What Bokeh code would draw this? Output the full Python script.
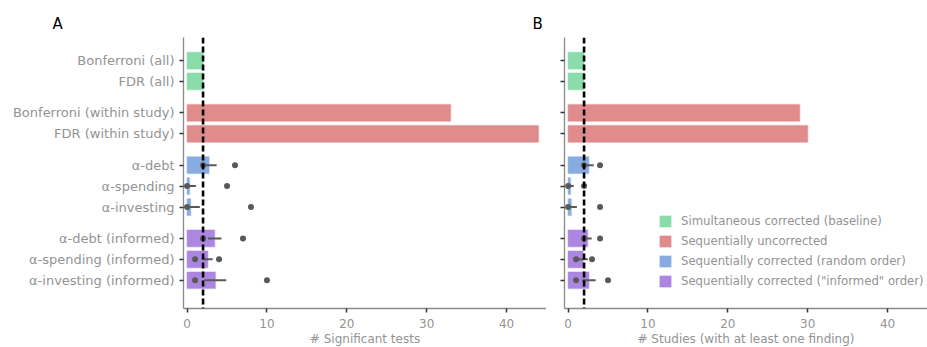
import math
from bokeh.plotting import figure
from bokeh.models import (ColumnDataSource, Range1d, FixedTicker, Span, Legend,
                          LegendItem)
from bokeh.layouts import row
from bokeh.embed import file_html
from bokeh.resources import INLINE

nan = float("nan")

# ---------------- data ----------------
labels = ["Bonferroni (all)", "FDR (all)",
          "Bonferroni (within study)", "FDR (within study)",
          "α-debt", "α-spending", "α-investing",
          "α-debt (informed)", "α-spending (informed)", "α-investing (informed)"]
row_group = [0, 0, 1, 1, 2, 2, 2, 3, 3, 3]
group_names = ["Simultaneous corrected (baseline)",
               "Sequentially uncorrected",
               "Sequentially corrected (random order)",
               'Sequentially corrected ("informed" order)']
group_colors = ["#84DAA6", "#DE8686", "#82A8DF", "#A980E0"]

baseline = 2  # dashed reference line

tests_mean = [2, 2, 33, 44, 2.75, 0.3, 0.45, 3.45, 2.6, 3.55]
tests_sd = [nan, nan, nan, nan, 0.95, 0.8, 1.15, 0.85, 0.6, 1.35]
tests_min = [nan, nan, nan, nan, 2, 0, 0, 2, 1, 1]
tests_max = [nan, nan, nan, nan, 6, 5, 8, 7, 4, 10]

studies_mean = [2, 2, 29, 30, 2.6, 0.3, 0.4, 2.45, 1.87, 2.6]
studies_sd = [nan, nan, nan, nan, 0.6, 0.4, 0.7, 0.5, 0.6, 0.85]
studies_min = [nan, nan, nan, nan, 2, 0, 0, 2, 1, 1]
studies_max = [nan, nan, nan, nan, 4, 2, 4, 4, 3, 5]

x_ticks = [0, 10, 20, 30, 40]

# ---------------- style ----------------
FONT = "DejaVu Sans"
GREY_TXT = "#939393"
AXIS_COL = "#8a8a8a"
TICK_COL = "#333333"
FRAME_H = 271

# row positions: one unit per row, half a unit extra between groups
pos = [i + 0.5 * g for i, g in enumerate(row_group)]


def make_panel(letter, letter_offset, mean, sd, mn, mx, xlabel, show_labels,
               min_left, legend=False, **kw):
    p = figure(output_backend="svg", toolbar_location=None,
               frame_width=363, frame_height=FRAME_H,
               min_border_left=min_left, min_border_right=0,
               min_border_top=37, min_border_bottom=0,
               x_range=Range1d(-0.45, 45), y_range=Range1d(11.85, -1.1),
               title=letter, **kw)
    p.title.text_font = FONT
    p.title.text_font_size = "15px"
    p.title.text_font_style = "normal"
    p.title.text_color = "black"
    p.title.align = "left"
    p.title.offset = letter_offset
    p.title.standoff = 9
    p.outline_line_color = None
    p.grid.visible = False
    p.background_fill_color = "white"
    p.border_fill_color = None

    renderers = []
    for g, col in enumerate(group_colors):
        idx = [i for i in range(len(labels)) if row_group[i] == g]
        src = ColumnDataSource(dict(y=[pos[i] for i in idx], right=[mean[i] for i in idx]))
        r = p.hbar(y="y", right="right", left=0, height=0.8, source=src,
                   fill_color=col, fill_alpha=0.95, line_color=col, line_alpha=0.35,
                   line_width=1.5)
        renderers.append(r)

    # error lines (mean +/- sd) and min/max points
    ei = [i for i in range(len(labels)) if not math.isnan(sd[i])]
    esrc = ColumnDataSource(dict(
        y=[pos[i] for i in ei],
        lo=[mean[i] - sd[i] for i in ei],
        hi=[mean[i] + sd[i] for i in ei],
        mn=[mn[i] for i in ei],
        mx=[mx[i] for i in ei]))
    p.segment(x0="lo", y0="y", x1="hi", y1="y", source=esrc,
              line_color="#595959", line_width=2)
    p.scatter(x="mn", y="y", source=esrc, size=6, fill_color="#595959",
              line_color=None)
    p.scatter(x="mx", y="y", source=esrc, size=6, fill_color="#595959",
              line_color=None)

    p.add_layout(Span(location=baseline, dimension="height", line_color="black",
                      line_width=2.6, line_dash="6 3"))

    # axes
    p.xaxis.ticker = FixedTicker(ticks=x_ticks)
    p.xaxis.axis_label = xlabel
    p.xaxis.axis_label_text_font = FONT
    p.xaxis.axis_label_text_font_size = "12px"
    p.xaxis.axis_label_text_font_style = "normal"
    p.xaxis.axis_label_text_color = GREY_TXT
    p.xaxis.axis_label_standoff = 1
    p.xaxis.major_label_text_font = FONT
    p.xaxis.major_label_text_font_size = "12px"
    p.xaxis.major_label_text_color = GREY_TXT
    p.xaxis.major_label_standoff = 6

    p.yaxis.ticker = FixedTicker(ticks=pos)
    if show_labels:
        p.yaxis.major_label_overrides = {pos[i]: labels[i] for i in range(len(labels))}
    else:
        p.yaxis.major_label_overrides = {pos[i]: "" for i in range(len(labels))}
    p.yaxis.major_label_text_font = FONT
    p.yaxis.major_label_text_font_size = "13px"
    p.yaxis.major_label_text_color = GREY_TXT
    p.yaxis.major_label_standoff = 5 if show_labels else 0

    for ax in (p.xaxis, p.yaxis):
        ax.axis_line_color = AXIS_COL
        ax.axis_line_width = 1.3
        ax.major_tick_line_color = TICK_COL
        ax.major_tick_line_width = 1.5
        ax.major_tick_out = 4
        ax.major_tick_in = 0
        ax.minor_tick_line_color = None

    if legend:
        items = [LegendItem(label=group_names[g], renderers=[renderers[g]])
                 for g in range(len(group_names))]
        leg = Legend(items=items, location=(94, 20), glyph_width=14, glyph_height=14,
                     label_height=14, spacing=6, padding=0, margin=0,
                     label_standoff=9, border_line_color=None,
                     background_fill_alpha=0, label_text_font=FONT,
                     label_text_font_size="11.7px", label_text_color=GREY_TXT)
        p.add_layout(leg, "center")
    return p


pA = make_panel("A", -131, tests_mean, tests_sd, tests_min, tests_max,
                "# Significant tests", True, 183)
# panel B's canvas starts a little inside A's right edge (transparent border)
# so that its letter can sit left of its frame, as in the reference
pB = make_panel("B", -32, studies_mean, studies_sd, studies_min, studies_max,
                "# Studies (with at least one finding)", False, 40, legend=True,
                margin=(0, 0, 0, -22))

layout = row(pA, pB)
open("out.html", "w").write(file_html(layout, INLINE))
